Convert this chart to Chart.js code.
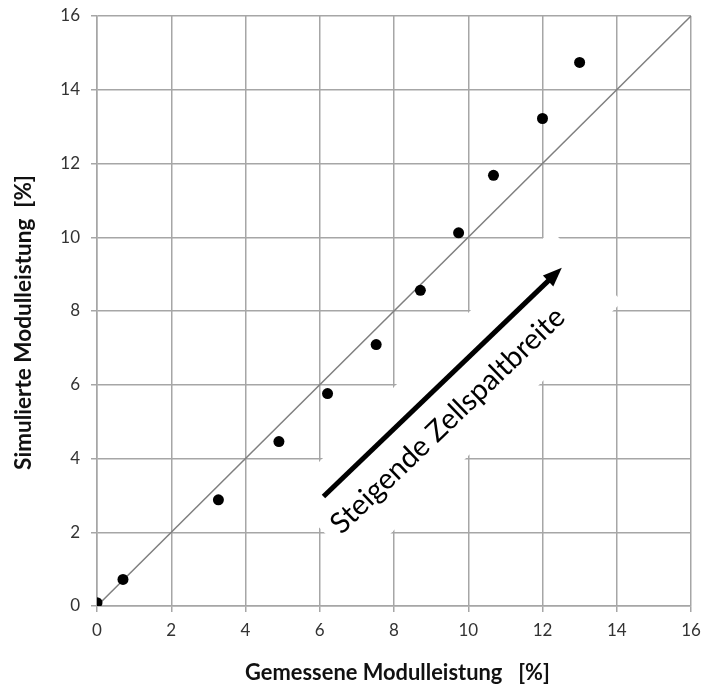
<!DOCTYPE html>
<html><head><meta charset="utf-8">
<script src="https://cdn.jsdelivr.net/npm/chart.js@4/dist/chart.umd.min.js"></script>
<style>html,body{margin:0;padding:0;background:#fff}#wrap{width:704px;height:687px}</style>
</head><body><div id="wrap"><canvas id="c" width="704" height="687"></canvas></div>
<script>
// ---- data ----
const measured  = [0, 0.70, 3.27, 4.90, 6.21, 7.52, 8.71, 9.74, 10.68, 12.00, 13.00];
const simulated = [0.09, 0.72, 2.88, 4.46, 5.76, 7.09, 8.56, 10.12, 11.68, 13.22, 14.74];
const refLine = [0, 16];
const tickValues = [0, 2, 4, 6, 8, 10, 12, 14, 16];
const xTitle = 'Gemessene Modulleistung   [%]';
const yTitle = 'Simulierte Modulleistung  [%]';
const arrowText = 'Steigende Zellspaltbreite';
// annotation geometry (data units)
const arrowFrom = [6.10, 2.97];
const arrowTo = [12.52, 9.17];
const textAnchor = [9.62, 4.85];
const maskCorners = [[5.10, 3.02], [12.23, 10.20], [14.15, 8.26], [7.03, 1.08]];

const FONT = 'Lato, "Open Sans", sans-serif';
const GRID = '#a6a6a6';
const TICK = '#333333';

function fitFont(ctx, text, weight, width) {
  ctx.font = weight + ' 20px ' + FONT;
  const s = 20 * width / ctx.measureText(text).width;
  return weight + ' ' + s.toFixed(2) + 'px ' + FONT;
}

const annot = {
  id: 'annot',
  beforeDatasetsDraw(chart) {
    const {ctx, scales: {x, y}} = chart;
    ctx.save();
    ctx.fillStyle = '#ffffff';
    ctx.beginPath();
    maskCorners.forEach((p, i) => {
      const px = x.getPixelForValue(p[0]), py = y.getPixelForValue(p[1]);
      if (i === 0) ctx.moveTo(px, py); else ctx.lineTo(px, py);
    });
    ctx.closePath();
    ctx.fill();
    ctx.restore();
  },
  afterDatasetsDraw(chart) {
    const {ctx, scales: {x, y}} = chart;
    ctx.save();
    const x0 = x.getPixelForValue(arrowFrom[0]), y0 = y.getPixelForValue(arrowFrom[1]);
    const x1 = x.getPixelForValue(arrowTo[0]), y1 = y.getPixelForValue(arrowTo[1]);
    const ang = Math.atan2(y1 - y0, x1 - x0);
    const headLen = 19, headHalf = 7.5;
    const bx = x1 - headLen * Math.cos(ang), by = y1 - headLen * Math.sin(ang);
    ctx.strokeStyle = '#000'; ctx.lineWidth = 5; ctx.lineCap = 'butt';
    ctx.beginPath(); ctx.moveTo(x0, y0); ctx.lineTo(bx + 2 * Math.cos(ang), by + 2 * Math.sin(ang)); ctx.stroke();
    ctx.fillStyle = '#000';
    ctx.beginPath();
    ctx.moveTo(x1, y1);
    ctx.lineTo(bx + headHalf * Math.sin(ang), by - headHalf * Math.cos(ang));
    ctx.lineTo(bx - headHalf * Math.sin(ang), by + headHalf * Math.cos(ang));
    ctx.closePath(); ctx.fill();

    // rotated label
    const tx = x.getPixelForValue(textAnchor[0]), ty = y.getPixelForValue(textAnchor[1]);
    ctx.font = fitFont(ctx, arrowText, 'normal', 312);
    ctx.translate(tx, ty);
    ctx.rotate(ang);
    ctx.textAlign = 'center'; ctx.textBaseline = 'alphabetic';
    ctx.fillStyle = '#000';
    ctx.fillText(arrowText, 0, 0);
    ctx.restore();

    // axis titles
    ctx.save();
    ctx.fillStyle = '#111';
    ctx.textAlign = 'center'; ctx.textBaseline = 'middle';
    ctx.font = fitFont(ctx, xTitle, 'bold', 305);
    ctx.fillText(xTitle, 397.5, 673);
    ctx.font = fitFont(ctx, yTitle, 'bold', 295);
    ctx.translate(24, 322.5);
    ctx.rotate(-Math.PI / 2);
    ctx.fillText(yTitle, 0, 0);
    ctx.restore();
  }
};

const axisCommon = {
  type: 'linear', min: 0, max: 16,
  afterBuildTicks(s) { s.ticks = tickValues.map(v => ({value: v})); },
  grid: { color: GRID, lineWidth: 1.5, tickLength: 6, tickColor: GRID, drawTicks: true },
  border: { display: true, color: GRID, width: 1.5 },
  ticks: { font: { family: FONT, size: 17 }, color: TICK, padding: 8, maxRotation: 0 }
};

new Chart(document.getElementById('c'), {
  data: {
    datasets: [
      {
        type: 'line', label: 'y = x',
        data: refLine.map(v => ({x: v, y: v})),
        borderColor: '#7f7f7f', borderWidth: 1.5, pointRadius: 0, fill: false, order: 2
      },
      {
        type: 'scatter', label: 'Modulleistung',
        data: measured.map((v, i) => ({x: v, y: simulated[i]})),
        backgroundColor: '#000', borderColor: '#000', pointRadius: 5.5, borderWidth: 0, order: 1
      }
    ]
  },
  options: {
    responsive: false, animation: false,
    layout: { padding: { top: 16, right: 13, left: 0, bottom: 0 } },
    plugins: { legend: { display: false }, tooltip: { enabled: false } },
    scales: {
      x: Object.assign({}, axisCommon, { position: 'bottom',
        afterFit(s) { s.height = 81; s.paddingLeft = 0; s.paddingRight = 0; } }),
      y: Object.assign({}, axisCommon, { position: 'left',
        ticks: Object.assign({}, axisCommon.ticks, {padding: 11}),
        afterFit(s) { s.width = 97; s.paddingTop = 0; s.paddingBottom = 0; } })
    }
  },
  plugins: [annot]
});
</script>
</body></html>
